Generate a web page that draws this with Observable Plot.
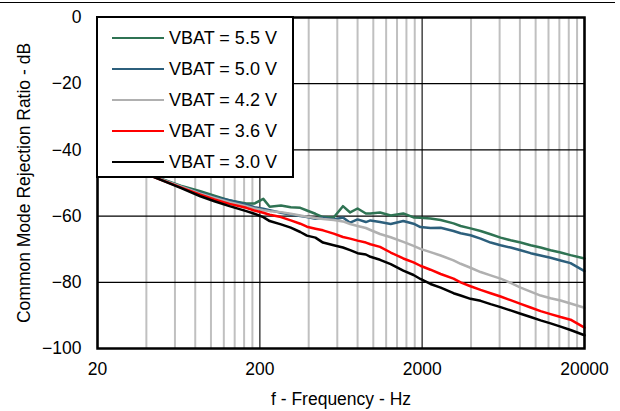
<!DOCTYPE html>
<html><head><meta charset="utf-8">
<script src="https://cdn.jsdelivr.net/npm/d3@7"></script>
<script src="https://cdn.jsdelivr.net/npm/@observablehq/plot@0.6"></script>
<style>
body{margin:0;background:#fff;font-family:"Liberation Sans",Arial,sans-serif;}
#wrap{position:relative;width:620px;height:411px;overflow:hidden;background:#fff}
#topline{position:absolute;left:0;top:2px;width:615px;height:1px;background:#000}
#legend{position:absolute;left:96px;top:16px;width:198px;height:162px;box-sizing:border-box;border:2.5px solid #000;background:#fff}
.row{position:absolute;left:0;height:20px;display:flex;align-items:center;font-size:18px;color:#000;white-space:nowrap}
.row .sw{display:inline-block;width:52px;height:2.5px;margin-left:14px;margin-right:5px}
</style></head><body>
<div id="wrap"><div id="topline"></div></div>
<script>
// Frequencies (Hz) shared by all series
const freq = [20, 32, 45, 65, 86, 105, 130, 165, 185, 210, 230, 270, 310, 355, 390, 440, 490, 570, 650, 720, 800, 900, 960, 1100, 1280, 1530, 1770, 1950, 2250, 2600, 3120, 3450, 3970, 4580, 5280, 6080, 7010, 8080, 9310, 10730, 12360, 14250, 16410, 20000];
// CMRR (dB) per supply voltage
const v55 = [-41.5, -45.3, -48, -50.8, -52.5, -53.8, -55.3, -56.2, -56.2, -54.8, -57.2, -56.8, -57.3, -57.5, -58.3, -59.3, -60.3, -60.4, -57, -58.9, -57.7, -59.2, -59.2, -58.9, -59.8, -59.2, -60.4, -60.5, -60.7, -61.2, -62.2, -63, -63.7, -64.5, -65.5, -66.5, -67.3, -68, -68.8, -69.5, -70.3, -71, -71.8, -72.8];
const v50 = [-41.5, -45.3, -48.2, -51, -53, -54.3, -55.2, -56.5, -57.3, -57.8, -58.2, -59, -59.5, -60, -60.3, -60.8, -60.5, -61, -60.4, -62, -61, -61.8, -61.3, -61.8, -62.4, -61.5, -62.3, -63.3, -63.6, -63.5, -64.5, -65.2, -65.8, -66.8, -68, -68.8, -69.5, -70.3, -71.2, -71.9, -72.6, -73.4, -74.2, -76.6];
const v42 = [-41.5, -45.3, -48.2, -51, -53.2, -54.5, -55.8, -57, -57.7, -58.2, -58.5, -58.8, -59.3, -59.8, -60.2, -60.6, -60.9, -61.2, -61.6, -62.4, -63, -63.6, -64.2, -65.4, -66.4, -67.8, -69, -69.9, -70.9, -71.9, -73.4, -74.4, -75.6, -76.9, -77.9, -78.9, -80.2, -81.6, -82.8, -84, -84.8, -85.5, -86.4, -87.7];
const v36 = [-41.5, -45.5, -48.3, -51.3, -53.5, -55, -56.3, -57.5, -58.3, -59, -59.6, -60.3, -61.3, -62.3, -63.2, -63.8, -64.3, -65.3, -66.3, -66.8, -67.4, -68, -68.5, -69.3, -71, -72.8, -74, -75, -76.2, -77.5, -78.9, -80, -81.2, -82.3, -83.3, -84.3, -85.4, -86.5, -87.6, -88.7, -89.6, -90.5, -91.3, -93.7];
const v30 = [-41.5, -45.5, -48.3, -51.5, -54, -55.5, -57, -58.5, -59.3, -60.3, -61.5, -62.5, -63.5, -64.8, -65.9, -66.5, -68, -68.8, -69.5, -70.3, -71.2, -71.6, -72.3, -73.2, -74.5, -76.5, -77.8, -79, -80.5, -81.6, -83.3, -84, -85, -85.6, -86.6, -87.5, -88.5, -89.5, -90.5, -91.5, -92.4, -93.4, -94.4, -96];

const seriesNames = ["VBAT = 5.5 V", "VBAT = 5.0 V", "VBAT = 4.2 V", "VBAT = 3.6 V", "VBAT = 3.0 V"];
const seriesValues = [v55, v50, v42, v36, v30];
const seriesColors = ["#2f7353", "#2c5f7c", "#b0b0b0", "#ff0000", "#000000"];
const xTicks = [20, 200, 2000, 20000];
const yTicks = [0, -20, -40, -60, -80, -100];
const minorTicks = [];
for (const d of [20, 200, 2000]) for (let k = 2; k <= 9; k++) minorTicks.push(d * k);

const rows = [];
seriesNames.forEach((s, i) => freq.forEach((f, j) => rows.push({f, v: seriesValues[i][j], s})));

const chart = Plot.plot({
  width: 620, height: 411,
  marginLeft: 97, marginRight: 36, marginTop: 17, marginBottom: 63,
  x: {type: "log", domain: [20, 20000]},
  y: {domain: [-100, 0]},
  color: {domain: seriesNames, range: seriesColors},
  style: {fontFamily: "'Liberation Sans', Arial, sans-serif", fontSize: "17.5px", color: "#000", background: "white"},
  marks: [
    Plot.ruleX(minorTicks, {stroke: "#c0c0c0", strokeWidth: 2}),
    Plot.ruleX(xTicks, {stroke: "#444", strokeWidth: 1.5}),
    Plot.ruleY(yTicks, {stroke: "#000", strokeWidth: 1.2}),
    Plot.line(rows, {x: "f", y: "v", z: "s", stroke: "s", strokeWidth: 2.5, curve: "linear"}),
    Plot.frame({stroke: "#000", strokeWidth: 2.5}),
    Plot.axisX(xTicks, {tickSize: 0, tickPadding: 14, tickFormat: d => String(d), label: "f - Frequency - Hz", labelAnchor: "center", labelArrow: "none", labelOffset: 56}),
    Plot.axisY(yTicks, {tickSize: 0, tickPadding: 16, label: "Common Mode Rejection Ratio - dB", labelAnchor: "center", labelArrow: "none", labelOffset: 80})
  ]
});
const wrap = document.getElementById("wrap");
wrap.insertBefore(chart, wrap.firstChild);

const legend = document.createElement("div");
legend.id = "legend";
seriesNames.forEach((s, i) => {
  const r = document.createElement("div");
  r.className = "row";
  r.style.top = (10 + i * 31) + "px";
  r.innerHTML = `<span class="sw" style="background:${seriesColors[i]}"></span><span>${s}</span>`;
  legend.appendChild(r);
});
wrap.appendChild(legend);
</script>
</body></html>
